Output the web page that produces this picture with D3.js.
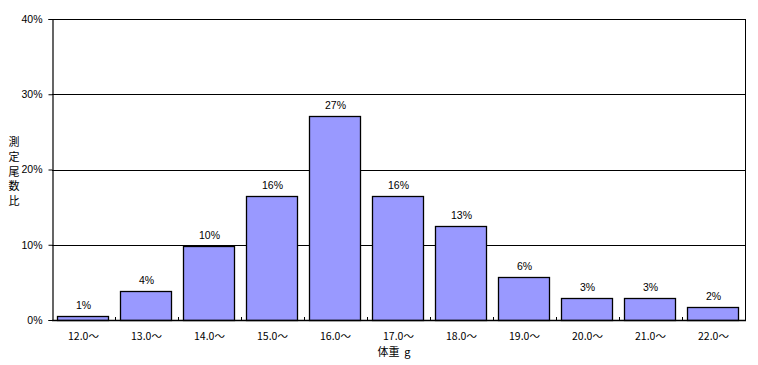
<!DOCTYPE html>
<html>
<head>
<meta charset="utf-8">
<script src="https://cdn.jsdelivr.net/npm/d3@7"></script>
<style>
  body { margin: 0; background: #fff; }
  svg { display: block; font-family: "Liberation Sans", "DejaVu Sans", sans-serif; }
  .jp { font-family: "Noto Sans CJK JP", sans-serif; }
</style>
</head>
<body>
<div id="chart"></div>
<script>
// data
const categories = ["12.0～", "13.0～", "14.0～", "15.0～", "16.0～", "17.0～", "18.0～", "19.0～", "20.0～", "21.0～", "22.0～"];
const shares = [0.5, 3.8, 9.8, 16.5, 27.1, 16.5, 12.5, 5.7, 2.9, 2.9, 1.7];
const shareLabels = ["1%", "4%", "10%", "16%", "27%", "16%", "13%", "6%", "3%", "3%", "2%"];
const yTicks = [0, 10, 20, 30, 40];
const yTitle = ["測", "定", "尾", "数", "比"];
const xTitle = "体重  g";

const width = 758, height = 365;
const margin = { top: 19, right: 13, bottom: 45, left: 52 };

const svg = d3.select("#chart").append("svg")
    .attr("width", width)
    .attr("height", height);

const x = d3.scaleBand()
    .domain(categories)
    .range([margin.left, width - margin.right])
    .paddingInner(0.19)
    .paddingOuter(0.095);

const y = d3.scaleLinear()
    .domain([0, 40])
    .range([height - margin.bottom, margin.top]);

// grid lines
svg.append("g")
    .selectAll("line")
    .data(yTicks.slice(1))
    .enter()
    .append("line")
        .attr("x1", margin.left)
        .attr("x2", width - margin.right)
        .attr("y1", d => Math.round(y(d)) + 0.5)
        .attr("y2", d => Math.round(y(d)) + 0.5)
        .attr("stroke", "#000")
        .attr("stroke-width", 1);

// plot frame (right side)
svg.append("line")
    .attr("x1", width - margin.right + 0.5)
    .attr("x2", width - margin.right + 0.5)
    .attr("y1", Math.round(y(40)))
    .attr("y2", Math.round(y(0)))
    .attr("stroke", "#000");

// bars
svg.append("g")
    .selectAll("rect")
    .data(shares)
    .enter()
    .append("rect")
        .attr("x", (d, i) => Math.round(x(categories[i])) - 0.5)
        .attr("y", d => Math.round(y(d)) + 0.5)
        .attr("width", Math.round(x.bandwidth()))
        .attr("height", d => Math.round(y(0)) - Math.round(y(d)))
        .attr("fill", "#9999ff")
        .attr("stroke", "#000")
        .attr("stroke-width", 1.3);

// value labels
svg.append("g")
    .selectAll("text")
    .data(shares)
    .enter()
    .append("text")
        .attr("x", (d, i) => x(categories[i]) + x.bandwidth() / 2)
        .attr("y", d => y(d) - 7)
        .attr("text-anchor", "middle")
        .attr("font-size", 10.5)
        .text((d, i) => shareLabels[i]);

// y axis
const yAxis = svg.append("g")
    .attr("transform", `translate(${margin.left + 0.5},0)`)
    .call(d3.axisLeft(y).tickValues(yTicks).tickFormat(d => d + "%").tickSize(4).tickPadding(6));
yAxis.select(".domain").attr("stroke", "#000").attr("stroke-width", 1.2);
yAxis.selectAll("text").attr("font-size", 10.5).attr("font-family", "Liberation Sans, sans-serif");

// x axis: ticks sit between bars, pointing up into the plot
const boundaries = d3.range(categories.length + 1).map(i => margin.left + i * (width - margin.left - margin.right) / categories.length);
const xg = svg.append("g");
xg.append("line")
    .attr("x1", margin.left)
    .attr("x2", width - margin.right + 1)
    .attr("y1", Math.round(y(0)) + 0.5)
    .attr("y2", Math.round(y(0)) + 0.5)
    .attr("stroke", "#000")
    .attr("stroke-width", 1.3);
xg.selectAll("line.tick")
    .data(boundaries.slice(1, -1))
    .enter()
    .append("line")
        .attr("class", "tick")
        .attr("x1", d => Math.round(d) + 0.5)
        .attr("x2", d => Math.round(d) + 0.5)
        .attr("y1", Math.round(y(0)) - 3)
        .attr("y2", Math.round(y(0)))
        .attr("stroke", "#000");
xg.selectAll("text")
    .data(categories)
    .enter()
    .append("text")
        .attr("class", "jp")
        .attr("x", d => x(d) + x.bandwidth() / 2)
        .attr("y", Math.round(y(0)) + 20)
        .attr("text-anchor", "middle")
        .attr("font-size", 10.5)
        .text(d => d);

// axis titles
svg.append("text")
    .attr("class", "jp")
    .attr("x", 394)
    .attr("y", 356)
    .attr("text-anchor", "middle")
    .attr("font-size", 11)
    .style("white-space", "pre")
    .text(xTitle);

svg.append("g")
    .selectAll("text")
    .data(yTitle)
    .enter()
    .append("text")
        .attr("class", "jp")
        .attr("x", 14)
        .attr("y", (d, i) => 146 + i * 14.8)
        .attr("text-anchor", "middle")
        .attr("font-size", 11)
        .text(d => d);
</script>
</body>
</html>
